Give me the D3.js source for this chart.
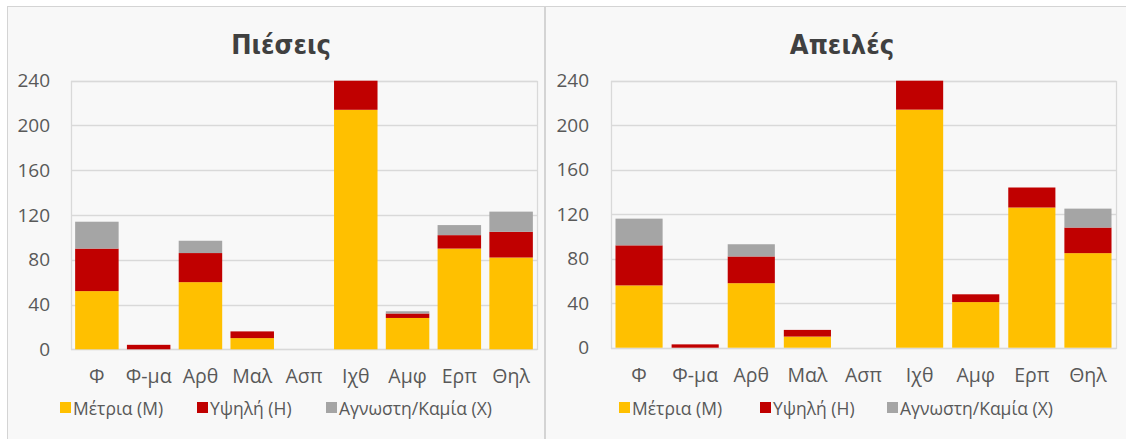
<!DOCTYPE html>
<html><head><meta charset="utf-8">
<script src="https://cdn.jsdelivr.net/npm/d3@7"></script>
<style>
html,body{margin:0;padding:0;background:#fff;}
svg{display:block;}
</style></head>
<body>
<svg id="c" width="1126" height="439"></svg>
<script>
const categories = ["Φ","Φ-μα","Αρθ","Μαλ","Ασπ","Ιχθ","Αμφ","Ερπ","Θηλ"];
const seriesNames = ["Μέτρια (Μ)","Υψηλή (Η)","Αγνωστη/Καμία (Χ)"];
const seriesColors = ["#FFC000","#C00000","#A5A5A5"];
const yTicks = [0,40,80,120,160,200,240];

const piesMetria = [52,0,60,10,0,214,28,90,82];
const piesYpsili = [38,4,26,6,0,26,4,12,23];
const piesAgnosti = [24,0,11,0,0,0,2,9,18];

const apeilMetria = [56,0,58,10,0,214,41,126,85];
const apeilYpsili = [36,3,24,6,0,26,7,18,23];
const apeilAgnosti = [24,0,11,0,0,0,0,0,17];

const svg = d3.select("#c");
const textColor = "#595959";
const fontFam = "'Open Sans', 'DejaVu Sans', sans-serif";

// panel backgrounds
svg.append("rect").attr("x",7.5).attr("y",6.5).attr("width",537).attr("height",440)
  .attr("fill","#f8f8f8").attr("stroke","#d4d4d4");
svg.append("rect").attr("x",545.5).attr("y",6.5).attr("width",590).attr("height",440)
  .attr("fill","#f8f8f8").attr("stroke","#d4d4d4");

function drawChart(cfg, title, m, h, x) {
  const g = svg.append("g");
  const rows = categories.map((c,i)=>({cat:c, M:m[i], H:h[i], X:x[i]}));
  const stack = d3.stack().keys(["M","H","X"])(rows);
  const xs = d3.scaleBand().domain(categories).range([cfg.left, cfg.right]).paddingInner(0.16).paddingOuter(0.08);
  const ys = d3.scaleLinear().domain([0,240]).range([cfg.bottom, cfg.top]);

  // gridlines
  g.append("g").selectAll("line").data(yTicks).join("line")
    .attr("x1",cfg.left).attr("x2",cfg.right)
    .attr("y1",d=>Math.round(ys(d))+0.5).attr("y2",d=>Math.round(ys(d))+0.5)
    .attr("stroke","#d9d9d9").attr("stroke-width",1.3);
  // plot frame
  g.append("rect").attr("x",cfg.left+0.5).attr("y",Math.round(ys(240))+0.5)
    .attr("width",cfg.right-cfg.left).attr("height",Math.round(ys(0))-Math.round(ys(240)))
    .attr("fill","none").attr("stroke","#d9d9d9").attr("stroke-width",1.3);

  // bars
  g.append("g").selectAll("g").data(stack).join("g")
    .attr("fill",(d,i)=>seriesColors[i])
    .selectAll("rect").data(d=>d).join("rect")
    .attr("x",d=>xs(d.data.cat))
    .attr("width",xs.bandwidth())
    .attr("y",d=>ys(Math.min(d[1],240)))
    .attr("height",d=>Math.max(0, ys(Math.min(d[0],240)) - ys(Math.min(d[1],240))));

  // y axis
  const ya = d3.axisLeft(ys).tickValues(yTicks).tickSize(0).tickPadding(cfg.tickPad);
  const yg = g.append("g").attr("transform",`translate(${cfg.left},0)`).call(ya);
  yg.select(".domain").remove();
  yg.selectAll("text").attr("font-family",fontFam).attr("font-size",19).attr("fill",textColor);

  // x axis
  const xa = d3.axisBottom(xs).tickSize(0).tickPadding(20);
  const xg = g.append("g").attr("transform",`translate(0,${cfg.bottom})`).call(xa);
  xg.select(".domain").remove();
  xg.selectAll("text").attr("font-family",fontFam).attr("font-size",19.5).attr("fill",textColor);

  // title
  g.append("text").attr("x",cfg.titleX).attr("y",54).attr("text-anchor","middle")
    .attr("font-family","'Liberation Sans Narrow','DejaVu Sans Condensed',sans-serif")
    .attr("font-weight","bold").attr("font-size",27).attr("fill","#404040").text(title);

  // legend
  const lg = g.append("g");
  seriesNames.forEach((s,i)=>{
    const lx = cfg.legendX[i];
    lg.append("rect").attr("x",lx).attr("y",402).attr("width",11).attr("height",11).attr("fill",seriesColors[i]);
    lg.append("text").attr("x",lx+13).attr("y",414.5).attr("font-family",fontFam)
      .attr("font-size",17.5).attr("fill",textColor).text(s);
  });
}

drawChart({left:71,right:537,top:80.7,bottom:349.3,tickPad:21,titleX:281,legendX:[60,197,326]},
  "Πιέσεις", piesMetria, piesYpsili, piesAgnosti);
drawChart({left:611,right:1116,top:80.7,bottom:347.7,tickPad:22,titleX:842,legendX:[619,760,887]},
  "Απειλές", apeilMetria, apeilYpsili, apeilAgnosti);
</script>
</body></html>
